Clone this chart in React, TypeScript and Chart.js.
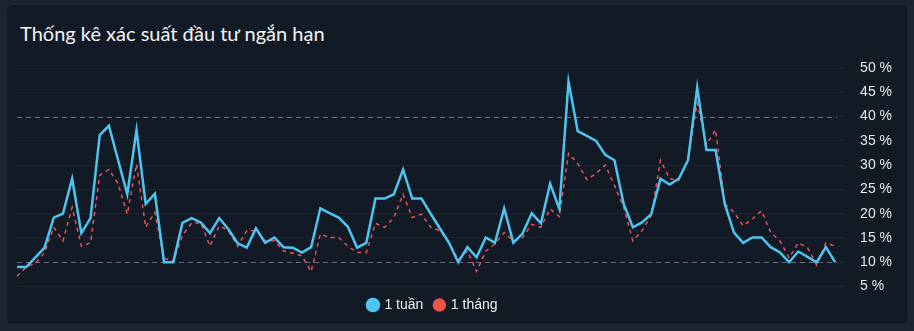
import React, { useEffect, useRef } from "react";
import { Chart, registerables } from "chart.js";

Chart.register(...registerables);

const TITLE = "Thống kê xác suất đầu tư ngắn hạn";
const SERIES_WEEK_LABEL = "1 tuần";
const SERIES_MONTH_LABEL = "1 tháng";

const WEEK: number[] = [
  9, 9, 11, 13, 19.2, 20, 27.2, 16, 19.1, 36.2,
  38.1, 31, 24, 37.2, 22, 24.1, 10, 10, 18.1, 19.1,
  18.2, 16, 19.1, 16.8, 13.9, 13, 17, 14, 15.1, 13.1,
  13, 12, 13.1, 21.1, 20.1, 19.2, 17.3, 13, 14, 23.1,
  23.1, 24, 29.1, 23.1, 23.1, 20, 17, 14, 10, 13.1,
  11, 15.1, 14, 21.1, 14, 15.9, 20.1, 18, 26.2, 21,
  47.2, 37, 36, 35, 32.1, 31, 22, 17.2, 18.2, 19.9,
  27.2, 26, 27.2, 31, 46, 33.1, 33.1, 22, 16.1, 14,
  15.1, 15.1, 13.1, 12, 10, 12.2, 11.1, 10, 13.1, 10,
];

const MONTH: number[] = [
  7.1, 9, 9.8, 12, 17.2, 14.4, 21.3, 13.3, 14, 27.9,
  29.1, 26.2, 19.9, 30.2, 17.2, 20.3, 10.8, 10.2, 15.5, 18.1,
  18.1, 13.3, 17.5, 16.5, 13.3, 16.5, 16.5, 14.4, 14.4, 12.3,
  11.9, 11.3, 8.1, 15.8, 15.1, 15.1, 13.3, 12, 12, 18,
  17.2, 19.2, 24, 19.2, 19.9, 17.2, 16.5, 14, 10.5, 12.3,
  8.1, 12.3, 13.8, 16.1, 14.4, 15.1, 17.8, 17.2, 21, 19.4,
  32.4, 30.3, 27, 28.3, 30, 25.8, 21.3, 14.4, 16.5, 19.6,
  31, 27.2, 26.9, 31.4, 42.8, 34.2, 37.3, 22, 20.3, 17.5,
  18.9, 20.6, 16.1, 14.4, 10.9, 14, 13, 9.4, 14, 13.3,
];

const CATEGORIES: string[] = WEEK.map((_, i) => `#${i + 1}`);

const Y_MIN = 5;
const Y_MAX = 50;
const Y_STEP = 5;
const REFERENCE_LEVELS: number[] = [10, 40];

const LEGEND_SHIFT_X = -29;

const refLinesPlugin = {
  id: "refLines",
  afterLayout(chart: any) {
    const lg = chart.legend;
    if (lg) {
      lg.left += LEGEND_SHIFT_X;
      lg.right += LEGEND_SHIFT_X;
    }
  },
  beforeDatasetsDraw(chart: any) {
    const { ctx, chartArea, scales } = chart;
    const y = scales.y;
    ctx.save();
    ctx.strokeStyle = "#676d78";
    ctx.lineWidth = 1;
    ctx.setLineDash([5, 4]);
    for (const v of REFERENCE_LEVELS) {
      const py = Math.round(y.getPixelForValue(v)) + 0.5;
      ctx.beginPath();
      ctx.moveTo(chartArea.left, py);
      ctx.lineTo(chartArea.right + 2, py);
      ctx.stroke();
    }
    ctx.restore();
  },
};

export default function App() {
  const canvasRef = useRef<HTMLCanvasElement | null>(null);

  useEffect(() => {
    document.body.style.margin = "0";
    document.body.style.background = "#1b2430";
    const canvas = canvasRef.current;
    if (!canvas) return;
    const chart = new Chart(canvas, {
      type: "line",
      data: {
        labels: CATEGORIES,
        datasets: [
          {
            label: SERIES_WEEK_LABEL,
            data: WEEK,
            borderColor: "#4cc6f0",
            backgroundColor: "#4cc6f0",
            borderWidth: 2.5,
            pointRadius: 0,
            tension: 0,
            fill: false,
          },
          {
            label: SERIES_MONTH_LABEL,
            data: MONTH,
            borderColor: "#e9505a",
            backgroundColor: "#f1553e",
            borderWidth: 1.5,
            borderDash: [4, 4],
            pointRadius: 0,
            tension: 0,
            fill: false,
          },
        ],
      },
      options: {
        animation: false,
        responsive: false,
        maintainAspectRatio: false,
        layout: { padding: { left: 17, right: 7, top: 68, bottom: 9 } },
        plugins: {
          title: { display: false },
          tooltip: { enabled: false },
          legend: {
            position: "bottom",
            labels: {
              usePointStyle: true,
              pointStyle: "circle",
              boxWidth: 9,
              boxHeight: 8.5,
              padding: 11.5,
              color: "#eceff3",
              font: { family: "Arial, 'Liberation Sans', sans-serif", size: 14 },
            },
          },
        },
        scales: {
          x: { display: false },
          y: {
            position: "right",
            min: Y_MIN,
            max: Y_MAX,
            border: { display: false },
            grid: {
              color: "rgba(255,255,255,0.045)",
              drawTicks: true,
              tickLength: 10,
            },
            ticks: {
              stepSize: Y_STEP,
              padding: 15,
              color: "#e6e9ee",
              font: { family: "Arial, 'Liberation Sans', sans-serif", size: 14 },
              callback: (v: any) => `${v} %`,
            },
          },
        },
      },
      plugins: [refLinesPlugin],
    });
    return () => chart.destroy();
  }, []);

  return (
    <div style={{ position: "relative", width: 914, height: 331, background: "#1b2430", overflow: "hidden" }}>
      <div
        style={{
          position: "absolute",
          left: 6,
          top: 4,
          width: 901,
          height: 319,
          background: "#121a25",
          border: "1px solid #222c39",
          borderRadius: 6,
        }}
      />
      <div
        style={{
          position: "absolute",
          left: 20,
          top: 21,
          fontFamily: "Lato, sans-serif",
          fontSize: 20,
          lineHeight: "24px",
          color: "#f2f4f7",
          whiteSpace: "nowrap",
        }}
      >
        {TITLE}
      </div>
      <canvas
        ref={canvasRef}
        width={914}
        height={331}
        style={{ position: "absolute", left: 0, top: 0, width: 914, height: 331 }}
      />
    </div>
  );
}
